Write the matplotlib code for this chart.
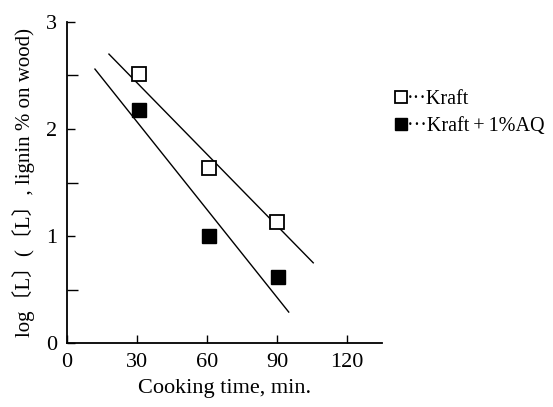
import matplotlib.pyplot as plt

plt.rcParams['font.family'] = ['Liberation Serif', 'Noto Sans CJK JP']

# data
time_kraft = [31, 61, 90]
log_l_kraft = [2.51, 1.64, 1.13]
time_aq = [31, 61, 90.5]
log_l_aq = [2.18, 1.00, 0.62]

# fitted lines (end points)
fit_kraft_x = [18, 105.5]
fit_kraft_y = [2.70, 0.75]
fit_aq_x = [12, 95]
fit_aq_y = [2.56, 0.29]

x_ticks = [0, 30, 60, 90, 120]
y_ticks = [0, 1, 2, 3]

fig = plt.figure(figsize=(5.53, 4.07), dpi=100)
ax = fig.add_axes([0.121, 0.157, 0.570, 0.789])

ax.plot(fit_kraft_x, fit_kraft_y, color='black', lw=1.0)
ax.plot(fit_aq_x, fit_aq_y, color='black', lw=1.0)
ax.plot(time_kraft, log_l_kraft, 's', ms=10, mfc='white', mec='black', mew=1.3,
        label='···Kraft', zorder=3)
ax.plot(time_aq, log_l_aq, 's', ms=10, mfc='black', mec='black',
        label='···Kraft\u2009+\u20091%AQ', zorder=3)

ax.set_xlim(0, 135)
ax.set_ylim(0, 3)
ax.set_xticks(x_ticks)
ax.set_yticks(y_ticks)
ax.set_yticks([0.5, 1.5, 2.5], minor=True)
ax.tick_params(direction='in', length=6, width=1, labelsize=16, pad=7)
ax.tick_params(which='minor', direction='in', length=8, width=1)
ax.spines['top'].set_visible(False)
ax.spines['right'].set_visible(False)
ax.spines['left'].set_linewidth(1.3)
ax.spines['bottom'].set_linewidth(1.3)

ax.set_xlabel('Cooking time, min.', fontsize=16, labelpad=5)
ax.set_ylabel('log〔L〕(〔L〕, lignin % on wood)', fontsize=15, labelpad=8)

ax.legend(loc='upper left', bbox_to_anchor=(0.995, 0.832), frameon=False,
          fontsize=14.5, handlelength=0.6, handletextpad=0.0, labelspacing=0.4,
          borderaxespad=0.3, markerscale=0.9)

fig.savefig('out.png', dpi=100)
